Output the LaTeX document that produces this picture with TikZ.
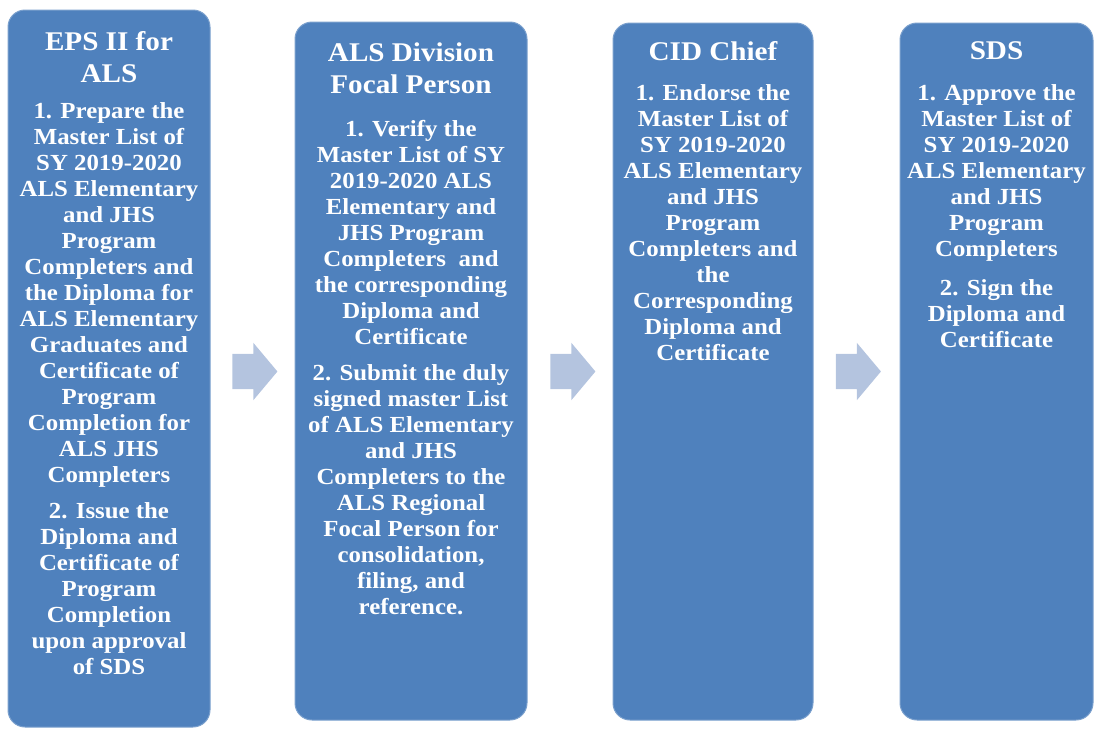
\documentclass[tikz,border=0pt]{standalone}
\usepackage{fontspec}
\setmainfont[FakeStretch=1.08]{Liberation Serif}
\usetikzlibrary{shapes.arrows}
\definecolor{boxblue}{HTML}{4F81BD}
\definecolor{arrowblue}{HTML}{B4C4DF}
\begin{document}
\begin{tikzpicture}[x=1pt,y=-1pt,
  box/.style={draw=boxblue!75!white, line width=1pt, fill=boxblue, rounded corners=17pt, inner sep=0pt},
  ttl/.style={anchor=north, inner sep=0pt, text=white, align=center, font=\fontsize{27}{32}\selectfont\bfseries},
  body/.style={anchor=north, inner sep=0pt, text=white, align=center, font=\fontsize{23}{26}\selectfont\bfseries},
  flow/.style={single arrow, fill=arrowblue, draw=none, inner xsep=0pt, inner ysep=17.5pt, minimum height=45pt, single arrow head extend=11pt, single arrow tip angle=100}]
\useasboundingbox (0,0) rectangle (1095,729);
% boxes
\node[box, minimum width=202pt, minimum height=717pt] (b1) at (109,368.5) {};
\node[box, minimum width=232pt, minimum height=698pt] (b2) at (411,371) {};
\node[box, minimum width=200pt, minimum height=697pt] (b3) at (713,371.5) {};
\node[box, minimum width=193pt, minimum height=697pt] (b4) at (996.5,371.5) {};
% arrows
\node[flow] (a1) at (247.5,371.5) {};
\node[flow] (a2) at (565.5,371.5) {};
\node[flow] (a3) at (851,371.5) {};
% box 1
\node[ttl] (t1) at (109,31) {EPS II for\\ALS};
\node[body] (x1) at (109,102) {1. Prepare the\\Master List of\\SY 2019-2020\\ALS Elementary\\and JHS\\Program\\Completers and\\the Diploma for\\ALS Elementary\\Graduates and\\Certificate of\\Program\\Completion for\\ALS JHS\\Completers\\[10pt]2. Issue the\\Diploma and\\Certificate of\\Program\\Completion\\upon approval\\of SDS};
% box 2
\node[ttl] (t2) at (411,43) {ALS Division\\Focal Person};
\node[body] (x2) at (411,120) {1. Verify the\\Master List of SY\\2019-2020 ALS\\Elementary and\\JHS Program\\Completers\ \ and\\the corresponding\\Diploma and\\Certificate\\[10pt]2. Submit the duly\\signed master List\\of ALS Elementary\\and JHS\\Completers to the\\ALS Regional\\Focal Person for\\consolidation,\\filing, and\\reference.};
% box 3
\node[ttl] (t3) at (713,41) {CID Chief};
\node[body] (x3) at (713,84) {1. Endorse the\\Master List of\\SY 2019-2020\\ALS Elementary\\and JHS\\Program\\Completers and\\the\\Corresponding\\Diploma and\\Certificate};
% box 4
\node[ttl] (t4) at (996.5,41) {SDS};
\node[body] (x4) at (996.5,84) {1. Approve the\\Master List of\\SY 2019-2020\\ALS Elementary\\and JHS\\Program\\Completers\\[13pt]2. Sign the\\Diploma and\\Certificate};
\end{tikzpicture}
\end{document}
